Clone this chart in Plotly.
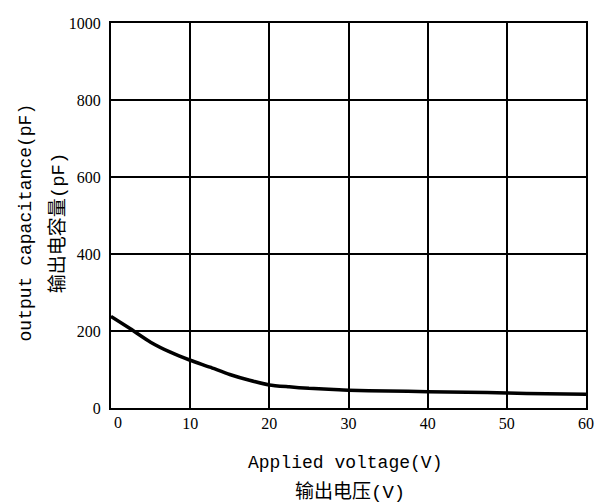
import plotly.graph_objects as go

voltage = [0, 2.5, 5, 7.5, 10, 12.5, 15, 17.5, 20, 22.5, 25, 27.5, 30, 35, 40, 45, 50, 55, 60]
capacitance = [238, 205, 171, 145, 124, 106, 87, 72, 60, 55, 51, 48.5, 46, 44, 42.5, 41, 39, 37, 36]

x_ticks = [0, 10, 20, 30, 40, 50, 60]
y_ticks = [0, 200, 400, 600, 800, 1000]

x_title = ["Applied voltage(V)", "输出电压(V)"]
y_title = ["output capacitance(pF)", "输出电容量(pF)"]

mono = "Liberation Mono, Noto Sans CJK SC"
serif = "Liberation Serif"

fig = go.Figure()
fig.add_trace(go.Scatter(
    x=voltage, y=capacitance, mode="lines",
    line=dict(color="black", width=3.5, shape="spline", smoothing=0.6),
    showlegend=False, hoverinfo="skip",
))

fig.update_layout(
    width=606, height=503,
    margin=dict(l=111, r=15, t=23, b=95),
    paper_bgcolor="white", plot_bgcolor="white",
    font=dict(family=serif, size=16, color="black"),
    xaxis=dict(
        range=[0, 60], tickvals=x_ticks[1:], ticktext=[str(v) for v in x_ticks[1:]],
        showgrid=True, gridcolor="black", gridwidth=2,
        showline=True, linecolor="black", linewidth=2, mirror=True,
        zeroline=False, ticks="", ticklabelstandoff=0,
        tickfont=dict(family=serif, size=16, color="black"),
    ),
    yaxis=dict(
        range=[0, 1000], tickvals=y_ticks, ticktext=[str(v) for v in y_ticks],
        showgrid=True, gridcolor="black", gridwidth=2,
        showline=True, linecolor="black", linewidth=2, mirror=True,
        zeroline=False, ticks="", ticklabelstandoff=5,
        tickfont=dict(family=serif, size=16, color="black"),
    ),
)

# shifted "0" label on x axis
fig.add_annotation(x=x_ticks[0], y=0, xref="x", yref="paper", text=str(x_ticks[0]),
                   showarrow=False, xshift=7, yshift=-14, xanchor="center", yanchor="middle",
                   font=dict(family=serif, size=16, color="black"))

# x axis title (two lines)
fig.add_annotation(x=0.492, y=0, xref="paper", yref="paper", text=x_title[0],
                   showarrow=False, yshift=-55, xanchor="center", yanchor="middle",
                   font=dict(family=mono, size=18, color="black"))
fig.add_annotation(x=0.504, y=0, xref="paper", yref="paper", text=x_title[1],
                   showarrow=False, yshift=-84, xanchor="center", yanchor="middle",
                   font=dict(family=mono, size=19, color="black"))

# y axis title (two lines)
fig.add_annotation(x=0, y=0.482, xref="paper", yref="paper", text=y_title[0], textangle=-90,
                   showarrow=False, xshift=-85, xanchor="center", yanchor="middle",
                   font=dict(family=mono, size=18, color="black"))
fig.add_annotation(x=0, y=0.48, xref="paper", yref="paper", text=y_title[1], textangle=-90,
                   showarrow=False, xshift=-53, xanchor="center", yanchor="middle",
                   font=dict(family=mono, size=19, color="black"))

fig.write_html("out.html", config={"displayModeBar": False},
               post_script="document.body.style.margin='0';document.body.style.padding='0';")
